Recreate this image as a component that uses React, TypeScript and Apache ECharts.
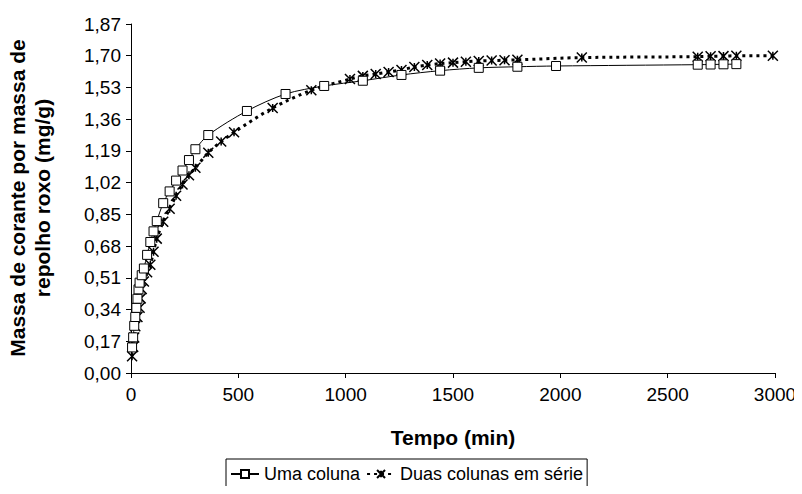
import React, { useEffect, useRef } from "react";
import * as echarts from "echarts";

const squareTimes = [5, 10, 15, 20, 25, 30, 35, 40, 50, 60, 75, 90, 105, 120, 150, 180, 210, 240, 270, 300, 360, 540, 720, 900, 1080, 1260, 1440, 1620, 1800, 1980, 2640, 2700, 2760, 2820];
const squareValues = [0.137, 0.191, 0.253, 0.3, 0.349, 0.398, 0.448, 0.484, 0.524, 0.56, 0.633, 0.702, 0.759, 0.814, 0.91, 0.973, 1.031, 1.085, 1.141, 1.199, 1.275, 1.404, 1.495, 1.538, 1.566, 1.597, 1.62, 1.635, 1.641, 1.645, 1.652, 1.653, 1.654, 1.655];

const crossTimes = [5, 10, 15, 20, 30, 40, 45, 50, 60, 75, 90, 105, 120, 150, 180, 210, 240, 270, 300, 360, 420, 480, 660, 840, 1020, 1080, 1140, 1200, 1260, 1320, 1380, 1440, 1500, 1560, 1620, 1680, 1740, 1800, 2100, 2640, 2700, 2760, 2820, 2990];
const crossValues = [0.09, 0.14, 0.19, 0.25, 0.3, 0.35, 0.4, 0.45, 0.49, 0.54, 0.58, 0.65, 0.72, 0.81, 0.88, 0.95, 1.01, 1.06, 1.1, 1.18, 1.24, 1.29, 1.42, 1.515, 1.575, 1.592, 1.602, 1.613, 1.624, 1.64, 1.65, 1.658, 1.663, 1.668, 1.672, 1.674, 1.676, 1.678, 1.69, 1.695, 1.697, 1.698, 1.7, 1.7];

const seriesNames = ["Uma coluna", "Duas colunas em série"];
const yTitle = "Massa de corante por massa de\nrepolho roxo (mg/g)";
const xTitle = "Tempo (min)";

const FONT = "Arial, 'Liberation Sans', sans-serif";
const starPath = "path://M0,0L10,10M10,0L0,10M5,1L5,9";

export default function App() {
  const ref = useRef<HTMLDivElement>(null);
  useEffect(() => {
    if (!ref.current) return;
    const chart = echarts.init(ref.current, undefined, { renderer: "svg" });
    chart.setOption({
      animation: false,
      backgroundColor: "#fff",
      textStyle: { fontFamily: FONT, color: "#000" },
      grid: { left: 131, right: 27, top: 24, bottom: 121, containLabel: false },
      xAxis: {
        type: "value",
        min: 0,
        max: 3000,
        interval: 500,
        name: xTitle,
        nameLocation: "middle",
        nameGap: 54,
        nameTextStyle: { fontFamily: FONT, fontSize: 21, fontWeight: "bold", color: "#000" },
        axisLine: { lineStyle: { color: "#000", width: 1 } },
        axisTick: { show: true, length: 5, lineStyle: { color: "#000" } },
        axisLabel: { fontFamily: FONT, fontSize: 19, color: "#000", margin: 12, formatter: (v: number) => String(v) },
        splitLine: { show: false },
      },
      yAxis: {
        type: "value",
        min: 0,
        max: 1.87,
        interval: 0.17,
        axisLine: { show: true, lineStyle: { color: "#000", width: 1 } },
        axisTick: { show: true, length: 5, lineStyle: { color: "#000" } },
        axisLabel: {
          fontFamily: FONT,
          fontSize: 19,
          color: "#000",
          margin: 10,
          formatter: (v: number) => v.toFixed(2).replace(".", ","),
        },
        splitLine: { show: false },
      },
      legend: {
        left: 226,
        top: 459,
        padding: [6, 4, 12, 4],
        borderColor: "#000",
        borderWidth: 1,
        itemWidth: 28,
        itemHeight: 10,
        itemGap: 6,
        textStyle: { fontFamily: FONT, fontSize: 18, color: "#000" },
        data: seriesNames,
      },
      graphic: [
        {
          type: "text",
          x: 30,
          y: 198,
          rotation: Math.PI / 2,
          style: {
            text: yTitle,
            align: "center",
            verticalAlign: "middle",
            font: `bold 21px ${FONT}`,
            lineHeight: 25,
            fill: "#000",
          },
        },
      ],
      series: [
        {
          name: seriesNames[0],
          type: "line",
          data: squareTimes.map((t, i) => [t, squareValues[i]]),
          smooth: 0.3,
          symbol: "rect",
          symbolSize: 9,
          showAllSymbol: true,
          itemStyle: { color: "#fff", borderColor: "#000", borderWidth: 1 },
          lineStyle: { color: "#000", width: 1 },
          z: 3,
        },
        {
          name: seriesNames[1],
          type: "line",
          data: crossTimes.map((t, i) => [t, crossValues[i]]),
          smooth: 0.3,
          symbol: starPath,
          symbolSize: 10,
          showAllSymbol: true,
          itemStyle: { color: "none", borderColor: "#000", borderWidth: 1.5 },
          lineStyle: { color: "#000", width: 3, type: [3, 4] },
          z: 2,
        },
      ],
    });
    return () => chart.dispose();
  }, []);
  return <div ref={ref} style={{ width: 802, height: 494, margin: -8 }} />;
}
